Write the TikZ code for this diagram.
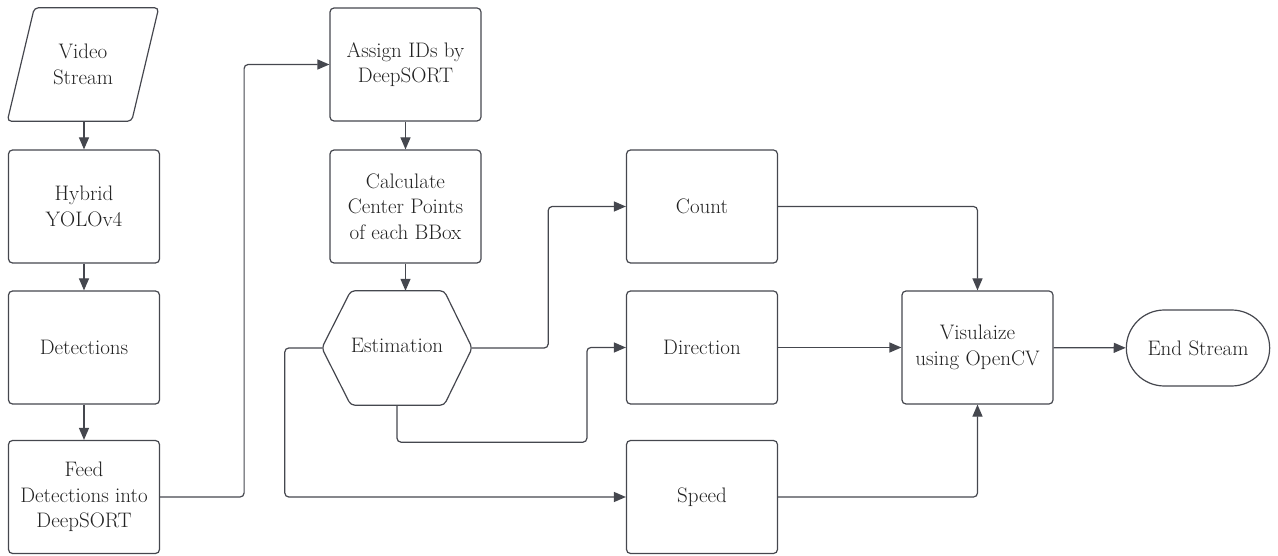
\documentclass[tikz,border=0pt]{standalone}
\usetikzlibrary{arrows.meta,shapes.misc,calc}
\definecolor{linegray}{HTML}{45474E}
\definecolor{txtgray}{HTML}{222222}
\tikzset{
  every node/.style={font=\fontsize{21}{25.5}\selectfont, text=txtgray, align=center},
  box/.style={draw=linegray, line width=1.2pt, rounded corners=4pt, minimum width=151pt, minimum height=113pt, inner sep=2pt},
  ghost/.style={minimum width=151pt, minimum height=113pt, inner sep=2pt},
  outline/.style={draw=linegray, line width=1.2pt, rounded corners=4pt},
  arr/.style={draw=linegray, line width=1.2pt, rounded corners=4pt, -{Triangle[length=12pt,width=10pt]}},
}
\begin{document}
\begin{tikzpicture}[x=1pt,y=-1pt]
\useasboundingbox (0,0) rectangle (1278,556);

% left column
\node[ghost] (video) at (83,64.5) {Video\\Stream};
\draw[outline] ([xshift=27pt]video.north west) -- (video.north east)
  -- ([xshift=-27pt]video.south east) -- (video.south west) -- cycle;
\node[box] (hyb) at (84,206.5) {Hybrid\\YOLOv4};
\node[box] (det) at (84,347.5) {Detections};
\node[box] (feed) at (84,497) {Feed\\Detections into\\DeepSORT};

% tracking column
\node[box] (assign) at (405.5,64.5) {Assign IDs by\\DeepSORT};
\node[box] (calc) at (405.5,206.5) {Calculate\\Center Points\\of each BBox};
\node[ghost, minimum width=150pt, minimum height=114pt] (hex) at (397,348) {};
\node (esttext) at ($(hex.center)+(0,-3)$) {Estimation};
\draw[outline] (hex.west) -- ([xshift=29pt]hex.north west) -- ([xshift=-28pt]hex.north east)
  -- (hex.east) -- ([xshift=-28pt]hex.south east) -- ([xshift=29pt]hex.south west) -- cycle;

% estimation outputs
\node[box] (count) at (702,206.5) {Count};
\node[box] (dir) at (702,347.5) {Direction};
\node[box] (speed) at (702,497) {Speed};

% output
\node[box] (vis) at (977.5,347.5) {Visulaize\\using OpenCV};
\node[draw=linegray, line width=1.2pt, rounded rectangle, minimum width=150pt, minimum height=76pt] (end) at (1198,348) {End Stream};

% connectors
\draw[arr] (hyb.north |- video.south) -- (hyb.north);
\draw[arr] (hyb) -- (det);
\draw[arr] (det) -- (feed);
\draw[arr] (feed.east) -- ++(84,0) |- (assign.west);
\draw[arr] (assign) -- (calc);
\draw[arr] (calc.south) -- (calc.south |- hex.north);
\draw[arr] (hex.east) -- ++(76,0) |- (count.west);
\coordinate (dirturn) at ($(dir.west)+(-39,0)$);
\draw[arr] (hex.south) -- ++(0,37) -| (dirturn) -- (dir.west);
\draw[arr] (hex.west) -- ++(-37,0) |- (speed.west);
\draw[arr] (count.east) -| (vis.north);
\draw[arr] (dir) -- (vis);
\draw[arr] (speed.east) -| (vis.south);
\draw[arr] (vis) -- (end);
\end{tikzpicture}
\end{document}
